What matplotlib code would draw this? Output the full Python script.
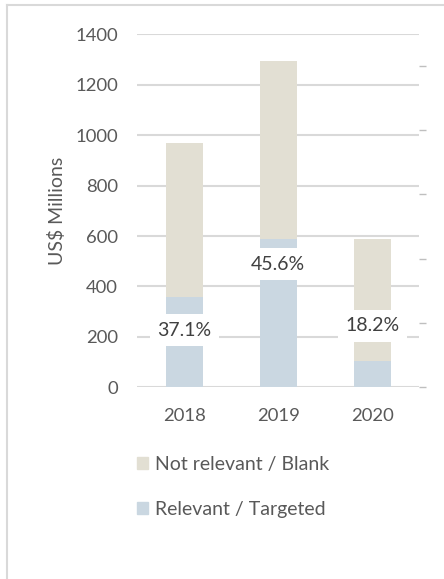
import matplotlib
matplotlib.use("Agg")
import matplotlib.pyplot as plt
from matplotlib.lines import Line2D
from matplotlib.patches import Patch

plt.rcParams['font.family'] = ['Lato', 'DejaVu Sans']

# data
years = ['2018', '2019', '2020']
relevant = [357, 588, 104]
not_relevant = [613, 705, 484]
share_pct = [37.1, 45.6, 18.2]
label_pos = [226, 488, 244]   # where the % boxes sit (US$ m)

C_REL = '#CAD7E1'
C_NOT = '#E2DFD3'
C_TEXT = '#595959'
C_GRID = '#D9D9D9'

fig = plt.figure(figsize=(4.44, 5.79), dpi=100)
fig.patch.set_facecolor('white')

# light frame around the chart area (only top/left visible in crop)
fig.add_artist(Line2D([7 / 444, 1.0], [1 - 5 / 579, 1 - 5 / 579],
                      transform=fig.transFigure, color=C_GRID, lw=1.5))
fig.add_artist(Line2D([7 / 444, 7 / 444], [0, 1 - 5 / 579],
                      transform=fig.transFigure, color=C_GRID, lw=1.5))

ax = fig.add_axes([137.3 / 444, 191.7 / 579, 281.7 / 444, 353 / 579])
x = range(len(years))
w = 0.395
ax.bar(x, relevant, w, color=C_REL, zorder=2, label='Relevant / Targeted')
ax.bar(x, not_relevant, w, bottom=relevant, color=C_NOT, zorder=2,
       label='Not relevant / Blank')

ax.set_xlim(-0.5, 2.5)
ax.set_ylim(0, 1400)
ax.set_yticks(range(0, 1401, 200))
ax.set_xticks(list(x))
ax.set_xticklabels(years)
ax.grid(axis='y', color=C_GRID, lw=1.5, zorder=0)
ax.set_axisbelow(True)
for s in ax.spines.values():
    s.set_visible(False)
ax.tick_params(axis='both', length=0, colors=C_TEXT, labelsize=13.3)
ax.tick_params(axis='y', pad=14)
ax.tick_params(axis='x', pad=15)
ax.set_ylabel('US$ Millions', color=C_TEXT, fontsize=14)
ax.yaxis.set_label_coords(-0.252, 0.5)

for xi, yp, p in zip(x, label_pos, share_pct):
    ax.text(xi, yp, f'{p:.1f}%', ha='center', va='center', fontsize=14,
            color='#404040', zorder=4,
            bbox=dict(boxstyle='square,pad=0.38', fc='white', ec='none'))

# secondary axis: tick marks only
ax2 = ax.twinx()
ax2.set_ylim(0, 0.549)
ax2.set_yticks([0, 0.1, 0.2, 0.3, 0.4, 0.5])
ax2.set_yticklabels([])
ax2.tick_params(axis='y', length=5, width=1, color='#BFBFBF', direction='out')
for s in ax2.spines.values():
    s.set_visible(False)

handles = [Patch(color=C_NOT), Patch(color=C_REL)]
labels = ['Not relevant / Blank', 'Relevant / Targeted']
fig.legend(handles, labels, loc='upper left',
           bbox_to_anchor=(137 / 444, 1 - 456 / 579), frameon=False,
           fontsize=14, labelcolor=C_TEXT, handlelength=0.58,
           handleheight=0.58, handletextpad=0.32, labelspacing=1.43,
           borderaxespad=0, borderpad=0)

fig.savefig('out.png', dpi=100, facecolor='white')
